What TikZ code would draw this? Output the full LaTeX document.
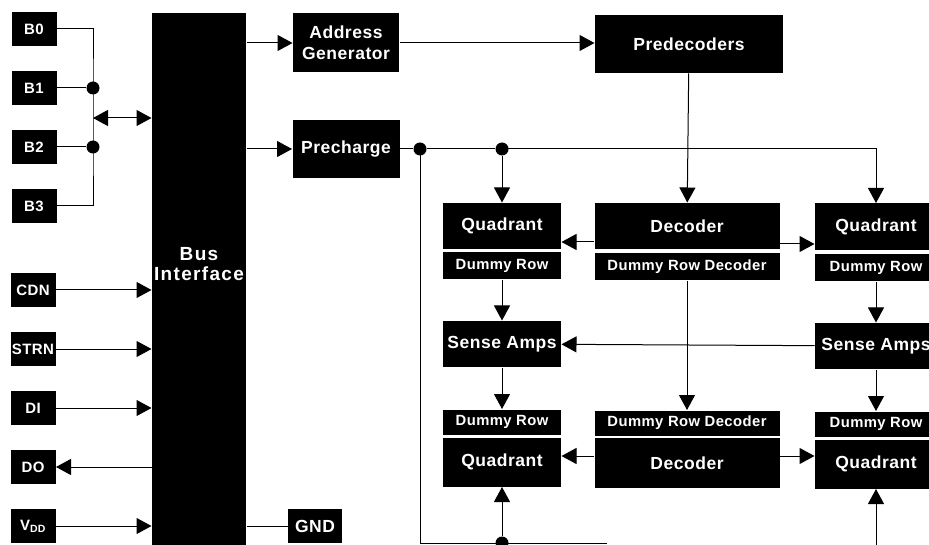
\documentclass[tikz,border=0pt]{standalone}
\usepackage{fontspec}
\setmainfont{Liberation Sans}[LetterSpace=3]
\newfontfamily\busfont{Liberation Sans}[LetterSpace=7]
\usetikzlibrary{arrows.meta}

\begin{document}
\begin{tikzpicture}[x=1pt,y=-1pt,line width=1pt,
  >={Triangle[length=15pt,width=16pt]},
  blk/.style={fill=black,text=white,inner sep=0pt,align=center,
    font=\fontsize{17.5}{21}\selectfont\bfseries},
  pin/.style={blk,minimum width=45pt,minimum height=34pt,
    font=\fontsize{15}{17}\selectfont\bfseries},
  quad/.style={blk,minimum width=118pt,minimum height=46pt},
  dummy/.style={blk,minimum width=118pt,minimum height=27pt,
    font=\fontsize{14.8}{17}\selectfont\bfseries},
  wide/.style={minimum width=185pt},
  dot/.style={circle,fill=black,inner sep=0pt,minimum size=13pt}]
  \useasboundingbox (0,0) rectangle (929,545);

  % Pins
  \foreach \i/\y in {0/29,1/88,2/147,3/206}
    \node[pin] (b\i) at (34,\y) {B\i};
  \node[pin] (cdn) at (33,290) {CDN};
  \node[pin] (strn) at (33,349) {STRN};
  \node[pin] (di) at (33,408) {DI};
  \node[pin] (do) at (33,467) {DO};
  \node[pin] (vdd) at (33,526) {V\textsubscript{DD}};

  % Bus interface
  \node[blk,minimum width=94pt,minimum height=536pt] (bus) at (199,281) {};
  \node[blk,font=\fontsize{19}{20}\selectfont\busfont\bfseries] (bustxt) at (199,264) {Bus\\Interface};
  \node[pin,minimum width=54pt,font=\fontsize{17.5}{21}\selectfont\bfseries] (gnd) at (315,526) {GND};

  % Data bus B0..B3
  \node[dot] (j1) at (93,88) {};
  \node[dot] (j2) at (93,147) {};
  \coordinate (jm) at (93,118);
  \draw (b0.east) -| (j1.center) -- (j2.center) |- (b3.east);
  \draw (b1) -- (j1);
  \draw (b2) -- (j2);
  \draw[<->] (jm) -- (jm -| bus.west);

  % Control pins
  \foreach \p in {cdn,strn,di,vdd}
    \draw[->] (\p) -- (\p -| bus.west);
  \draw[->] (do -| bus.west) -- (do);
  \draw (gnd -| bus.east) -- (gnd);

  % Address path
  \node[blk,minimum width=106pt,minimum height=59pt] (addr) at (346,43) {Address\\Generator};
  \node[blk,minimum width=107pt,minimum height=58pt] (pre) at (346,149) {Precharge};
  \node[blk,minimum width=188pt,minimum height=58pt] (pred) at (689,44) {Predecoders};
  \draw[->] (bus.east |- addr) -- (addr);
  \draw[->] (bus.east |- pre) -- (pre);
  \draw[->] (addr) -- (addr -| pred.west);

  % Upper half
  \node[quad] (qtl) at (502,226) {Quadrant};
  \node[dummy] (dtl) at (502,266) {Dummy Row};
  \node[quad,wide] (dec1) at (687,226) {Decoder};
  \node[dummy,wide] (drd1) at (687,267) {Dummy Row Decoder};
  \node[quad,minimum width=122pt,minimum height=47pt] (qtr) at (876,227) {Quadrant};
  \node[dummy,minimum width=122pt] (dtr) at (876,268) {Dummy Row};

  % Sense amps
  \node[quad] (sal) at (502,344) {Sense Amps};
  \node[quad,minimum width=122pt] (sar) at (876,346) {Sense Amps};

  % Lower half
  \node[dummy,minimum height=25pt] (dbl) at (502,422) {Dummy Row};
  \node[quad,minimum height=49pt] (qbl) at (502,462) {Quadrant};
  \node[dummy,wide,minimum height=25pt] (drd2) at (687,423) {Dummy Row Decoder};
  \node[quad,wide,minimum height=50pt] (dec2) at (687,463) {Decoder};
  \node[dummy,minimum width=122pt,minimum height=25pt] (dbr) at (876,424) {Dummy Row};
  \node[quad,minimum width=122pt,minimum height=49pt] (qbr) at (876,464) {Quadrant};

  % Precharge lines
  \node[dot] (p1) at (420,149) {};
  \node[dot] (p2) at (502,149) {};
  \node[dot] (p3) at (502,543) {};
  \coordinate (pend) at (607,543);
  \coordinate (rbot) at (876,552);
  \draw (pre) -- (p1) -- (p2);
  \draw[->] (p2.center) -| (qtr.north);
  \draw[->] (p2) -- (qtl);
  \draw (p1.center) |- (pend);
  \draw[->] (p3) -- (qbl);
  \draw[->] (rbot) -- (qbr);

  % Decoder paths
  \draw[->] (pred) -- (dec1);
  \draw[->] ([yshift=-16pt]dec1.west) -- ([yshift=-16pt]dec1.west -| qtl.east);
  \draw[->] ([yshift=-18pt]dec1.east) -- ([yshift=-18pt]dec1.east -| qtr.west);
  \draw[->] (drd1) -- (drd2);
  \draw[->] ([yshift=7pt]dec2.west) -- ([yshift=7pt]dec2.west -| qbl.east);
  \draw[->] ([yshift=7pt]dec2.east) -- ([yshift=7pt]dec2.east -| qbr.west);

  % Read path
  \draw[->] (dtl) -- (sal);
  \draw[->] (dtr) -- (sar);
  \draw[->] (sar) -- (sal);
  \draw[->] (sal) -- (dbl);
  \draw[->] (sar) -- (dbr);
\end{tikzpicture}
\end{document}
